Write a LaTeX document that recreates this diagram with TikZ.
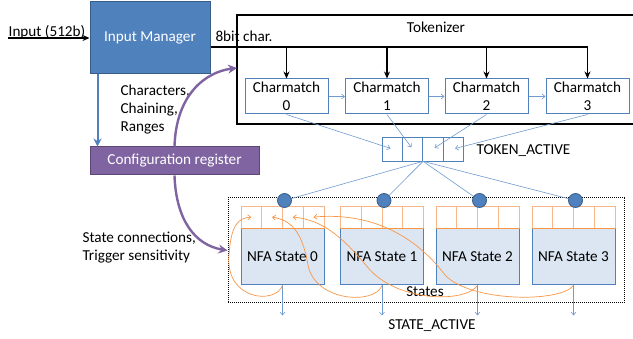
\documentclass[tikz,border=0pt]{standalone}
\usepackage{fontspec}
\setmainfont{Carlito}
\usepackage{xcolor}
\definecolor{imblue}{HTML}{4F81BD}
\definecolor{imborder}{HTML}{385D8A}
\definecolor{cfgpurple}{HTML}{8064A2}
\definecolor{cfgborder}{HTML}{5C4776}
\definecolor{stfill}{HTML}{DCE6F2}
\definecolor{wireblue}{HTML}{6F9BD1}
\definecolor{nfaorange}{HTML}{F79646}
\definecolor{cellorange}{HTML}{F9B68A}
\usepackage{tikz}
\usetikzlibrary{arrows.meta,calc,positioning}

\begin{document}
\begin{tikzpicture}[x=1pt,y=-1pt,font=\fontsize{15.2}{18}\selectfont,
  block/.style={draw=imborder,line width=1pt,fill=imblue,text=white,inner sep=0pt},
  charbox/.style={draw=imblue,line width=1pt,fill=white,align=center,
    minimum width=83pt,minimum height=35pt,inner sep=0pt},
  tokcell/.style={draw=imblue,line width=.6pt,fill=white,minimum width=20.25pt,
    minimum height=24pt,inner sep=0pt},
  statebox/.style={draw=imblue,line width=1pt,fill=stfill,minimum width=83pt,
    minimum height=56pt,inner sep=0pt},
  statecell/.style={draw=cellorange,line width=.8pt,minimum width=20.75pt,
    minimum height=22pt,inner sep=0pt},
  dot/.style={circle,draw=imborder,line width=.8pt,fill=imblue,minimum size=14pt,inner sep=0pt},
  wire/.style={draw=wireblue,line width=.6pt,-{Straight Barb[length=3pt,width=5pt]}},
  loopback/.style={draw=nfaorange,line width=.7pt,-{Straight Barb[length=3pt,width=5pt]}},
  busline/.style={line width=1.6pt},
  busarrow/.style={line width=1.6pt,-{Stealth[length=7pt,width=6pt]}},
  imarrow/.style={draw=imblue,line width=2pt,-{Stealth[length=8pt,width=8pt]}},
  cfgarrow/.style={draw=cfgpurple,line width=2.4pt,-{Stealth[length=9pt,width=9pt]}}]
  \useasboundingbox (0,0) rectangle (633,339);

  %% input side
  \node[block,minimum width=120pt,minimum height=72pt] (im) at (150,38) {Input Manager};
  \node[anchor=base] (inplbl) at (47,37) {Input (512b)};
  \coordinate (inp) at (8,38);
  \draw[busarrow] (inp) -- (im.west);

  \node[block,draw=cfgborder,fill=cfgpurple,minimum width=169pt,minimum height=28pt]
  (cfg) at (174.5,161) {Configuration register};
  \draw[imarrow] ([xshift=8pt]im.south west) -- ([xshift=8pt]im.south west |- cfg.north);
  \node[align=left,anchor=west] (cfglbl) at (117,110) {Characters,\\Chaining,\\Ranges};
  \node[align=left,anchor=west] (nfalbl) at (79,248) {State connections,\\Trigger sensitivity};

  %% tokenizer
  \draw[line width=1.4pt] (633,15) -- (237,15) -- (237,124);
  \draw[line width=2.4pt] (236.3,124) -- (633,124);
  \node (toklbl) at (436,27) {Tokenizer};
  \coordinate (tokw) at (237,68);

  \foreach \i/\x in {0/286.5,1/387,2/486.5,3/587.5}
    \node[charbox] (cm\i) at (\x,96.5) {Charmatch\\\i};
  \foreach \i/\j in {0/1,1/2,2/3}
    \draw[wire] (cm\i) -- (cm\j);

  \coordinate (bus) at ([yshift=-9pt]im.east);
  \node[anchor=west] (buslbl) at (212,36) {8bit char.};
  \draw[busline] (bus) -- (cm3.north |- bus);
  \foreach \i in {0,...,3}
    \draw[busarrow] (cm\i.north |- bus) -- (cm\i.north);

  %% token register
  \foreach \i in {0,...,3}
    \node[tokcell] (tk\i) at (392.4+20.25*\i,149) {};
  \node[anchor=west] (tklbl) at (473,151) {TOKEN\_ACTIVE};
  \foreach \i in {0,...,3}
    \draw[wire,shorten >=2pt] (cm\i.south) -- (tk\i.center);

  %% states
  \node[draw,densely dotted,line width=1pt,minimum width=396pt,minimum height=105pt]
  (nfa) at (426,250.5) {};
  \foreach \i/\x in {0/282.5,1/382,2/477.5,3/573.5} {
    \node[statebox] (st\i) at (\x,257) {NFA State \i};
    \foreach \j in {0,...,3}
      \node[statecell,anchor=south west] (c\i\j) at ($(st\i.north west)+(20.75*\j,0)$) {};
    \draw[nfaorange,line width=1.2pt] (st\i.north west) -- (st\i.north east);
    \coordinate (sa\i) at ($(st\i.south)+(0,30)$);
    \draw[wire] (st\i.south) -- (sa\i);
  }
  \foreach \i in {0,...,3}
    \draw[wire] (tk1.south east) -- ($(st\i.north)+(2,-28)$);
  \foreach \i in {0,...,3}
    \node[dot] (dt\i) at ($(st\i.north)+(2,-28)$) {};

  \node (stlbl) at (425,292) {States};
  \node (salbl) at (432,326) {STATE\_ACTIVE};

  %% loop back connections
  \draw[loopback] (st0.south) .. controls (275,305) and (225,300) .. (229,255)
    .. controls (231,225) and (238,218) .. (c00.center);
  \draw[loopback] (st1.south) .. controls (375,305) and (315,302) .. (308,265)
    .. controls (302,230) and (290,220) .. (c01.center);
  \draw[loopback] (st2.south) .. controls (465,303) and (400,302) .. (370,270)
    .. controls (345,240) and (325,220) .. (c02.center);
  \draw[loopback] (st3.south) .. controls (560,303) and (470,302) .. (445,275)
    .. controls (415,235) and (370,212) .. (c03.center);

  %% configuration paths
  \draw[cfgarrow] (cfg.north) .. controls (176,95) and (205,72) .. (tokw);
  \draw[cfgarrow] (cfg.south) .. controls (176,220) and (195,245) .. (nfa.west);
\end{tikzpicture}
\end{document}
